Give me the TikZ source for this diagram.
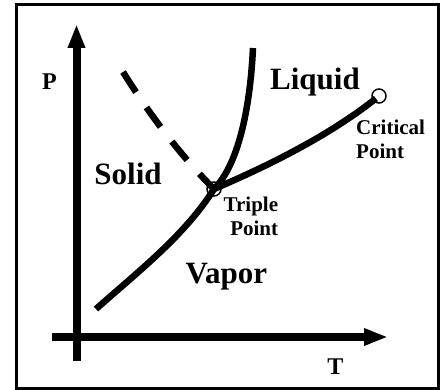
\documentclass[tikz,border=0pt]{standalone}
\usepackage{fontspec}
\setmainfont{Liberation Serif}
\usetikzlibrary{arrows.meta}
\begin{document}
\begin{tikzpicture}[x=1pt,y=-1pt,
  axis/.style={line width=8pt,-{Triangle[length=24pt,width=16pt]}},
  phase/.style={line width=6.5pt},
  bigl/.style={font=\bfseries\fontsize{31}{31}\selectfont,inner sep=0pt},
  smalll/.style={font=\bfseries\fontsize{21}{21}\selectfont,inner sep=0pt},
  axlabel/.style={font=\bfseries\fontsize{24}{24}\selectfont,inner sep=0pt},
  ptmark/.style={circle,draw,line width=1.5pt,minimum size=14pt,inner sep=0pt}]
\useasboundingbox (0,0) rectangle (442,390);
\draw[line width=3pt] (16,4.5) rectangle (438.5,388);
% axes
\coordinate (ox0) at (52,337);
\coordinate (ox1) at (388,337);
\coordinate (oy0) at (76.5,361);
\coordinate (oy1) at (76.5,24);
\draw[axis] (ox0) -- (ox1);
\draw[axis] (oy0) -- (oy1);
% points
\node[ptmark] (tp) at (214,189) {};
\node[ptmark] (cp) at (379,96) {};
\coordinate (subl0) at (96,309);
\coordinate (fus1) at (253,48);
\coordinate (dash0) at (123,72);
% curves
\draw[phase] (subl0) .. controls (140,270) and (185,235) .. (tp.center);
\draw[phase] (tp.center) .. controls (238,165) and (250,110) .. (fus1);
\draw[phase,shorten >=4pt] (tp.center) .. controls (270,165) and (330,135) .. (cp.center);
\draw[phase,dash pattern=on 24pt off 18.5pt] (dash0) .. controls (150,115) and (180,155) .. (tp.center);
% labels
\node[axlabel,anchor=base] (plab) at (49.5,89.3) {P};
\node[axlabel,anchor=base] (tlab) at (335.5,374) {T};
\node[bigl,anchor=base] (solid) at (128,184.3) {Solid};
\node[bigl,anchor=base] (liquid) at (315,90) {Liquid};
\node[bigl,anchor=base] (vapor) at (226.3,283.3) {Vapor};
\node[smalll,anchor=base west] (crit1) at (356,134.3) {Critical};
\node[smalll,anchor=base west] (crit2) at (356,158.3) {Point};
\node[smalll,anchor=base east] (trip1) at (278.3,211.7) {Triple};
\node[smalll,anchor=base east] (trip2) at (278.3,236) {Point};
\end{tikzpicture}
\end{document}
